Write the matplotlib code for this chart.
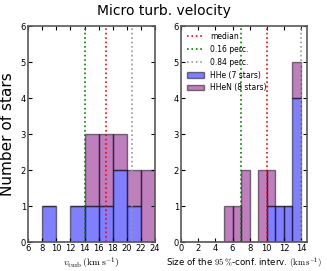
import numpy as np
import matplotlib
matplotlib.use('Agg')
import matplotlib.pyplot as plt

plt.rcParams['mathtext.fontset'] = 'cm'
plt.rcParams['xtick.direction'] = 'in'
plt.rcParams['ytick.direction'] = 'in'

# left panel: micro turbulence velocity histogram (bins of 2 km/s)
vt_edges = [6, 8, 10, 12, 14, 16, 18, 20, 22, 24]
vt_hhe = [0, 1, 0, 1, 1, 1, 2, 1, 0]
vt_hhen = [0, 0, 0, 0, 2, 2, 1, 1, 2]
vt_median, vt_p16, vt_p84 = 17.0, 14.0, 20.8

# right panel: size of the 95% confidence interval (bins of 1 km/s)
ci_edges = list(range(0, 16))
ci_hhe = [0, 0, 0, 0, 0, 0, 0, 0, 0, 0, 1, 1, 1, 4, 0]
ci_hhen = [0, 0, 0, 0, 0, 1, 1, 2, 0, 2, 1, 0, 0, 1, 0]
ci_median, ci_p16, ci_p84 = 10.0, 7.0, 14.0

labels = ['HHe (7 stars)', 'HHeN (8 stars)']
colors = ['blue', 'purple']

fig = plt.figure(figsize=(3.27, 2.71), dpi=100)
ax1 = fig.add_axes([0.086, 0.107, 0.388, 0.797])
ax2 = fig.add_axes([0.554, 0.107, 0.385, 0.797])


def panel(ax, edges, hhe, hhen, med, p16, p84, xlim, xlabel, xfs):
    edges = np.array(edges, dtype=float)
    centers = 0.5 * (edges[:-1] + edges[1:])
    ax.hist([centers, centers], bins=edges, weights=[hhe, hhen],
            stacked=True, color=colors, alpha=0.5, edgecolor='black',
            linewidth=1, label=labels)
    ax.axvline(med, color='red', ls=':', lw=1.2, label='median')
    ax.axvline(p16, color='green', ls=':', lw=1.2, label='0.16 perc.')
    ax.axvline(p84, color='0.6', ls=':', lw=1.2, label='0.84 perc.')
    ax.set_xlim(*xlim)
    ax.set_ylim(0, 6)
    ax.set_yticks(range(0, 7))
    ax.tick_params(labelsize=6, top=True, right=True, length=3, width=0.8, pad=1.5)
    for s in ax.spines.values():
        s.set_color('0.35')
        s.set_linewidth(1.2)
    ax.set_xlabel(xlabel, fontsize=xfs, labelpad=2)


panel(ax1, vt_edges, vt_hhe, vt_hhen, vt_median, vt_p16, vt_p84, (6, 24),
      r'$v_\mathrm{turb}\,(\mathrm{km\,s^{-1}})$', 7)
ax1.set_xticks(range(6, 25, 2))
ax1.set_ylabel('Number of stars', fontsize=11, labelpad=4)

panel(ax2, ci_edges, ci_hhe, ci_hhen, ci_median, ci_p16, ci_p84, (0, 14.7),
      r'Size of the $95\,\%$-conf. interv. $(\mathrm{km\,s^{-1}})$', 6.2)
ax2.set_xticks(range(0, 15, 2))

h, l = ax2.get_legend_handles_labels()
order = [l.index('median'), l.index('0.16 perc.'), l.index('0.84 perc.'),
         l.index(labels[0]), l.index(labels[1])]
ax2.legend([h[i] for i in order], [l[i] for i in order], loc='upper left',
           frameon=False, fontsize=5.5, handlelength=2.2, borderaxespad=0.4,
           labelspacing=0.5)

fig.suptitle('Micro turb. velocity', fontsize=10, y=0.985)
fig.savefig('out.png', dpi=100)
